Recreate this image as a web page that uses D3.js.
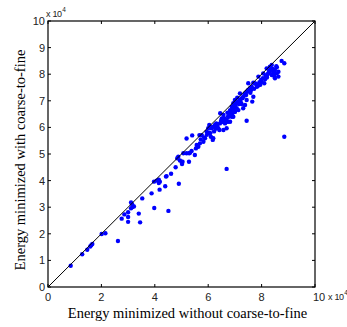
<!DOCTYPE html>
<html lang="en">
<head>
<meta charset="UTF-8">
<title>Energy scatter</title>
<script src="https://cdn.jsdelivr.net/npm/d3@7"></script>
<style>
  body { margin: 0; background: #fff; }
  .tick-label { font-family: "Liberation Sans", Arial, sans-serif; font-size: 11px; fill: #222; }
  .ax-label { font-family: "Liberation Serif", "Times New Roman", serif; font-size: 14.5px; fill: #000; }
</style>
</head>
<body>
<div id="grafica"></div>
<script>
// values in units of 1e4
xTicks = [0, 2, 4, 6, 8, 10]
yTicks = [0, 1, 2, 3, 4, 5, 6, 7, 8, 9, 10]
xLabel = 'Energy minimized without coarse-to-fine'
yLabel = 'Energy minimized with coarse-to-fine'

// energy without coarse-to-fine (x) / with (y)
xs = [0.85,1.28,1.47,1.58,1.62,1.66,2.01,2.15,2.62,2.76,2.86,3.0,3.0,3.0,3.11,3.15,3.17,3.11,3.22,3.40,
      3.45,3.53,3.88,3.98,4.18,3.97,4.07,4.15,4.15,4.19,4.39,4.51,4.42,4.61,4.44,4.9,4.78,4.84,4.88,4.94,
      5.0,5.02,5.04,5.07,5.19,5.28,5.29,5.32,5.38,5.5,5.19,5.4,6.69,8.85,7.44,6.45,
      5.54,5.63,5.57,5.69,5.72,5.67,5.76,5.88,5.82,5.94,6.0,6.04,6.13,6.07,6.19,6.1,6.25,6.32,6.38,6.42,
      6.44,6.51,6.57,6.63,6.69,6.75,6.79,6.82,6.88,6.94,7.0,7.09,7.13,7.07,7.0,6.94,6.82,6.69,6.57,6.17,
      6.63,6.69,6.75,6.82,6.88,6.94,7.0,7.07,7.13,7.19,7.25,7.31,7.38,7.44,7.5,7.57,7.63,7.69,7.75,7.82,
      7.88,7.94,8.0,8.1,8.13,8.19,8.25,8.31,8.38,8.44,8.5,8.63,8.57,8.48,7.19,7.69,7.65,7.44,7.38,7.31,
      7.13,7.0,6.88,6.75,7.88,7.5,8.06,8.19,8.31,8.38,8.75,8.85,8.57,8.63,8.5,
      5.85,5.95,6.05,6.22,6.28,6.35,6.48,6.55,6.6,6.72,6.85,6.92,7.02,7.15,7.22,7.28,7.35,7.42,7.55,7.6,
      7.72,7.8,7.85,7.92,7.98,8.05,8.15,8.22,8.28,8.35,8.42,8.55,6.3,6.15,6.9,7.25,7.58,7.95,8.2,8.45]
ys = [0.80,1.23,1.40,1.52,1.57,1.62,1.99,2.02,1.73,2.57,2.73,2.81,2.63,2.45,3.18,3.11,3.01,2.96,3.03,2.76,
      2.43,3.33,3.52,2.97,3.66,3.96,4.0,4.03,3.91,3.96,3.79,2.86,4.15,4.26,4.17,3.88,4.5,4.84,4.9,4.76,
      4.71,4.62,4.71,5.03,5.03,4.71,5.03,5.05,5.11,4.96,5.58,5.7,4.44,5.65,6.25,6.53,
      5.21,5.27,5.34,5.4,5.55,5.71,5.71,5.59,5.46,5.84,5.97,6.09,5.97,5.78,5.59,5.65,6.09,6.03,5.97,5.9,
      6.15,6.34,6.47,6.28,6.21,6.4,6.53,6.65,6.78,6.91,7.03,7.12,6.97,6.72,6.59,6.4,6.21,5.97,5.9,5.53,
      6.15,6.28,6.4,6.47,6.59,6.72,6.78,6.91,6.97,7.03,7.09,7.15,7.28,7.34,7.41,7.47,7.53,7.68,7.66,7.53,
      7.59,7.66,7.72,7.66,7.81,7.91,8.03,8.09,7.97,8.03,8.16,8.09,8.03,7.91,7.28,7.15,6.97,7.03,6.84,6.72,
      6.65,6.59,6.4,6.21,7.91,7.66,8.03,8.22,8.28,8.35,8.5,8.41,8.26,7.91,7.85,
      5.62,5.72,5.8,5.85,5.95,6.1,6.25,6.2,6.35,6.55,6.62,6.7,6.85,6.88,6.95,7.1,7.2,7.22,7.35,7.4,
      7.45,7.62,7.55,7.7,7.78,7.85,7.95,8.0,8.12,8.18,8.2,8.3,6.15,6.02,6.5,6.88,7.3,7.6,7.88,8.1]

W = 347, H = 327
m = {left: 48, right: 315, top: 21, bottom: 287}

svg = d3.select('#grafica').append('svg')
  .attr('width', W).attr('height', H)

x = d3.scaleLinear().domain([0, 10]).range([m.left, m.right])
y = d3.scaleLinear().domain([0, 10]).range([m.bottom, m.top])

data = xs.map(function(d, i) { return {x: d, y: ys[i]} })

// points
svg.append('g').selectAll('circle').data(data).enter()
  .append('circle')
  .attr('cx', function(d) { return x(d.x) })
  .attr('cy', function(d) { return y(d.y) })
  .attr('r', 2.2)
  .attr('fill', '#0000ff')

// diagonal y = x
svg.append('line')
  .attr('x1', x(0)).attr('y1', y(0))
  .attr('x2', x(10)).attr('y2', y(10))
  .attr('stroke', '#000').attr('stroke-width', 1)

// box
svg.append('rect')
  .attr('x', m.left).attr('y', m.top)
  .attr('width', m.right - m.left).attr('height', m.bottom - m.top)
  .attr('fill', 'none').attr('stroke', '#000').attr('stroke-width', 1.2)

// inward ticks, all four sides
tl = 3
ticks = svg.append('g').attr('stroke', '#000').attr('stroke-width', 1)
xTicks.forEach(function(t) {
  ticks.append('line').attr('x1', x(t)).attr('x2', x(t)).attr('y1', m.bottom).attr('y2', m.bottom - tl)
  ticks.append('line').attr('x1', x(t)).attr('x2', x(t)).attr('y1', m.top).attr('y2', m.top + tl)
})
yTicks.forEach(function(t) {
  ticks.append('line').attr('y1', y(t)).attr('y2', y(t)).attr('x1', m.left).attr('x2', m.left + tl)
  ticks.append('line').attr('y1', y(t)).attr('y2', y(t)).attr('x1', m.right).attr('x2', m.right - tl)
})

// tick labels
svg.append('g').selectAll('text').data(xTicks).enter()
  .append('text').attr('class', 'tick-label')
  .attr('x', function(d) { return d == 10 ? x(d) + 4 : x(d) })
  .attr('y', m.bottom + 14)
  .attr('text-anchor', 'middle')
  .text(function(d) { return d })

svg.append('g').selectAll('text').data(yTicks).enter()
  .append('text').attr('class', 'tick-label')
  .attr('x', m.left - 3)
  .attr('y', function(d) { return y(d) + 4 })
  .attr('text-anchor', 'end')
  .text(function(d) { return d })

// exponent markers
function expo(px, py) {
  t = svg.append('text').attr('class', 'tick-label').attr('x', px).attr('y', py)
    .style('font-size', '9px').style('letter-spacing', '-0.3px')
  t.append('tspan').text('x 10')
  t.append('tspan').attr('dy', -5).attr('dx', 0.5).style('font-size', '6.5px').text('4')
}
expo(m.left - 2, m.top - 4)
expo(m.right + 13, m.bottom + 13)

// axis labels
svg.append('text').attr('class', 'ax-label')
  .attr('x', (m.left + m.right) / 2 + 6).attr('y', 318)
  .attr('text-anchor', 'middle').text(xLabel)

svg.append('text').attr('class', 'ax-label')
  .attr('transform', 'translate(25,' + ((m.top + m.bottom) / 2 + 6) + ') rotate(-90)')
  .attr('text-anchor', 'middle').text(yLabel)
</script>
</body>
</html>
